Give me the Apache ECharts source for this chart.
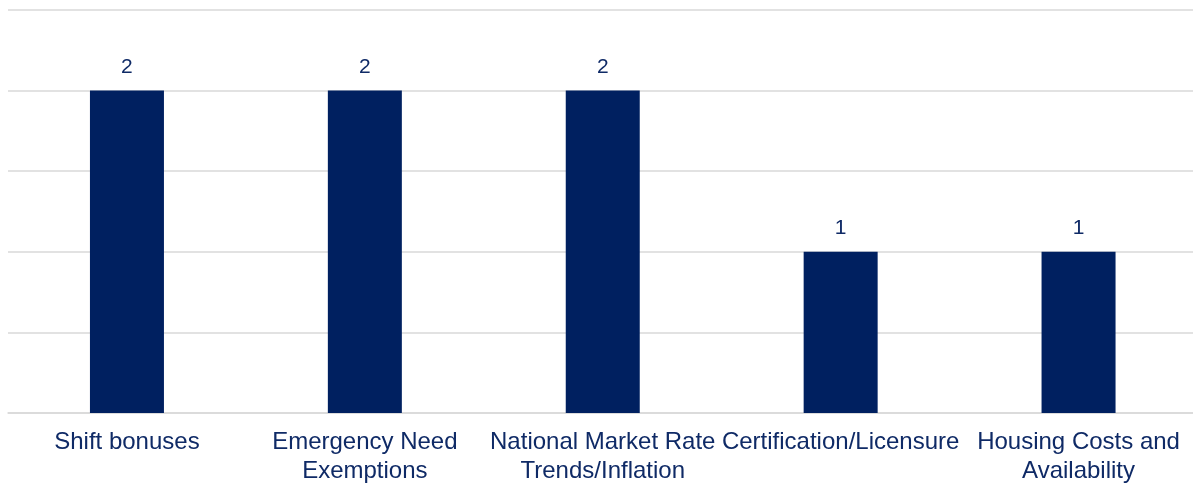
<!DOCTYPE html>
<html lang="en">
<head>
    <meta charset="UTF-8">
    <title>Bar chart</title>
    <script src="https://cdn.jsdelivr.net/npm/echarts@6/dist/echarts.min.js"></script>
    <style>
        *{
            margin: 0;
            padding: 0;
        }
        .container{
            width: 1193px;
            height: 486px;
        }
    </style>
</head>
<body>
<div class="container"></div>
<script>
    let categories = ['Shift bonuses', 'Emergency Need\nExemptions', 'National Market Rate\nTrends/Inflation', 'Certification/Licensure', 'Housing Costs and\nAvailability'];
    let values = [2, 2, 2, 1, 1];

    let mycharts = echarts.init(document.querySelector('.container'));
    let navy = '#002060';
    let textColor = '#0f2a66';

    let option = {
        animation: false,
        grid: {
            left: 8,
            right: -4.5,
            top: 10,
            bottom: 73,
            outerBoundsMode: 'none'
        },
        xAxis: {
            type: 'category',
            data: categories,
            axisLine: { lineStyle: { color: '#d9d9d9', width: 1.5 } },
            axisTick: { show: false },
            axisLabel: {
                interval: 0,
                margin: 15,
                color: textColor,
                fontSize: 24,
                lineHeight: 29,
                fontFamily: 'Liberation Sans, Arial, sans-serif'
            }
        },
        yAxis: {
            type: 'value',
            min: 0,
            max: 2.5,
            interval: 0.5,
            axisLabel: { show: false },
            axisLine: { show: false },
            axisTick: { show: false },
            splitLine: { lineStyle: { color: '#d9d9d9', width: 1.5 } }
        },
        series: [{
            type: 'bar',
            data: values,
            barWidth: 74,
            itemStyle: { color: navy },
            label: {
                show: true,
                position: 'top',
                distance: 13,
                color: textColor,
                fontSize: 21,
                fontFamily: 'Liberation Sans, Arial, sans-serif'
            }
        }]
    };

    mycharts.setOption(option);
</script>
</body>
</html>
